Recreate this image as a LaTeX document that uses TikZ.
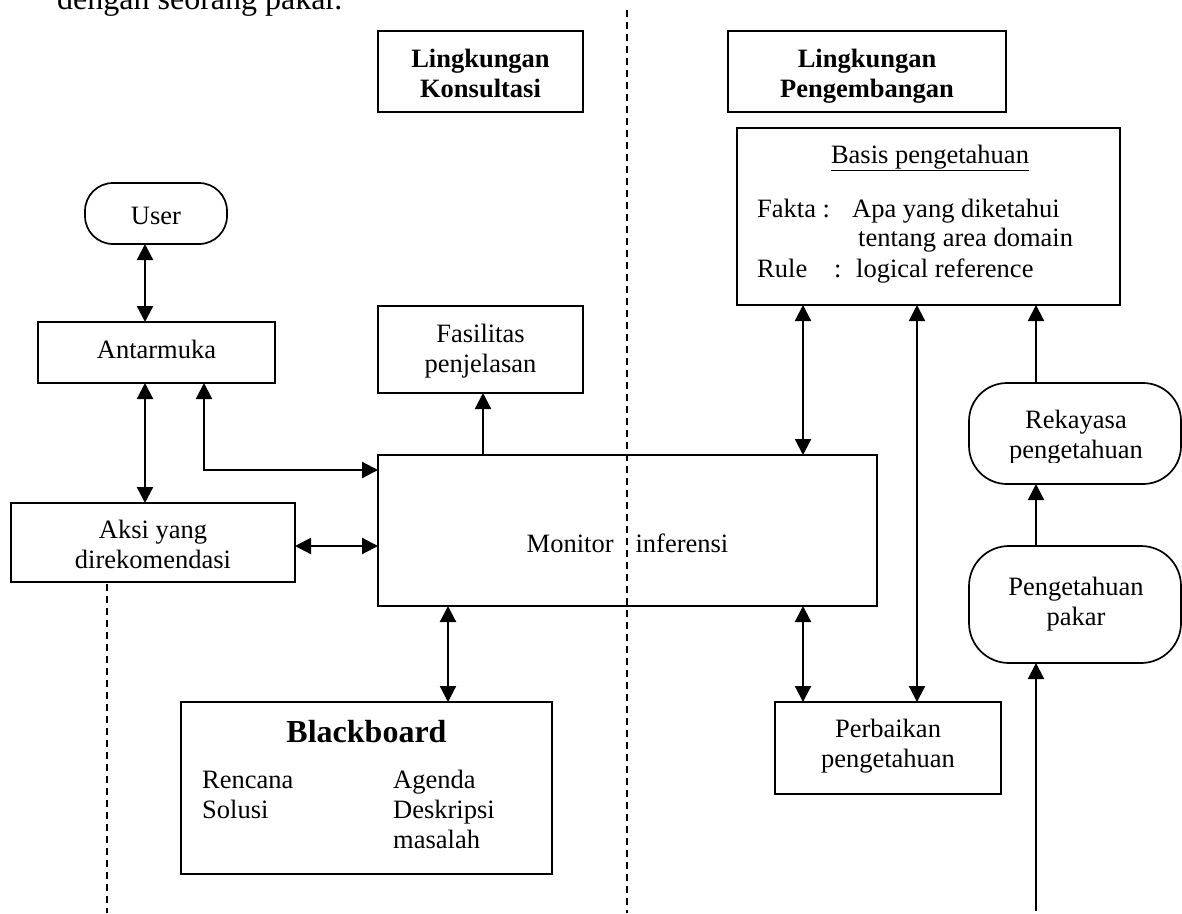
\documentclass[tikz,border=0pt]{standalone}
\usepackage{fontspec}
\setmainfont{Liberation Serif}
\usetikzlibrary{arrows.meta}
\newcommand\fsn{\fontsize{26.5}{30}\selectfont}
\newcommand\fsbig{\fontsize{32}{38}\selectfont}
\begin{document}
\begin{tikzpicture}[x=1pt,y=-1pt,
  box/.style={draw, line width=2.2pt, rectangle, inner sep=0pt, outer sep=0pt, anchor=north west},
  stad/.style={draw, line width=1.7pt, rectangle, inner sep=0pt, outer sep=0pt, anchor=north west},
  txt/.style={font=\fsn, align=center, inner sep=0pt, anchor=base},
  ltxt/.style={font=\fsn, align=left, inner sep=0pt, anchor=base west},
  arr/.style={line width=2.2pt, -{Triangle[length=16pt,width=16pt]}},
  darr/.style={line width=2.2pt, {Triangle[length=16pt,width=16pt]}-{Triangle[length=16pt,width=16pt]}},
  sepline/.style={line width=1.7pt, dash pattern=on 7pt off 5pt}]
\useasboundingbox (0,0) rectangle (1182,913);

% cut-off text line at the top
\node[font=\fsbig, inner sep=0pt, anchor=base west] (toptext) at (57,9) {dengan seorang pakar.};

% separators
\draw[sepline] (627,10) -- (627,913);
\draw[sepline] (107,584) -- (107,913);

% headings (multi-line nodes: base = last line)
\node[box, minimum width=205pt, minimum height=81pt] (konsul) at (378,31) {};
\node[txt] (konsul-t) at (480.5,97) {\bfseries Lingkungan\\\bfseries Konsultasi};
\node[box, minimum width=278pt, minimum height=81pt] (pengem) at (728,31) {};
\node[txt] (pengem-t) at (867,97) {\bfseries Lingkungan\\\bfseries Pengembangan};

% knowledge base
\node[box, minimum width=383pt, minimum height=177pt] (basis) at (737,128) {};
\node[txt] (basis-h) at (930,163) {\underline{Basis pengetahuan}};
\node[ltxt] (fakta) at (757,217) {Fakta :};
\node[ltxt] (fakta-v1) at (852,217) {Apa yang diketahui};
\node[ltxt] (fakta-v2) at (858,246) {tentang area domain};
\node[ltxt] (rule) at (757,277) {Rule};
\node[ltxt] (rule-c) at (834,277) {:};
\node[ltxt] (rule-v) at (856,277) {logical reference};

% left column
\node[stad, rounded corners=28pt, minimum width=142pt, minimum height=61pt] (user) at (85,183) {};
\node[txt] (user-t) at (156,224) {User};
\node[box, minimum width=237pt, minimum height=61pt] (antar) at (38,322) {};
\node[txt] (antar-t) at (156.5,358) {Antarmuka};
\node[box, minimum width=284pt, minimum height=79pt] (aksi) at (11,503) {};
\node[txt] (aksi-t) at (153,568) {Aksi yang\\direkomendasi};

% centre
\node[box, minimum width=205pt, minimum height=87pt] (fasil) at (378,306) {};
\node[txt] (fasil-t) at (480.5,372) {Fasilitas\\penjelasan};
\node[box, minimum width=499pt, minimum height=151pt] (monitor) at (378,455) {};
\node[txt] (monitor-t) at (627.5,552) {Monitor\hspace*{22pt}inferensi};
\node[box, minimum width=371pt, minimum height=172pt] (black) at (181,702) {};
\node[txt, font=\fsbig\bfseries] (black-t) at (366.5,742) {Blackboard};
\node[ltxt] (black-l) at (202,818) {Rencana\\Solusi};
\node[ltxt] (black-r) at (393,848) {Agenda\\Deskripsi\\masalah};

% right column
\node[box, minimum width=226pt, minimum height=92pt] (perb) at (775,702) {};
\node[txt] (perb-t) at (888,767) {Perbaikan\\pengetahuan};
\node[stad, rounded corners=38pt, minimum width=212pt, minimum height=101pt] (reka) at (969,383) {};
\begin{scope}
\clip (960,380) rectangle (1182,462);
\node[txt] (reka-t) at (1076,458) {Rekayasa\\pengetahuan};
\end{scope}
\node[stad, rounded corners=40pt, minimum width=212pt, minimum height=117pt] (pakar) at (969,546) {};
\node[txt] (pakar-t) at (1076,625) {Pengetahuan\\pakar};

% connector positions
\coordinate (xa) at (145,0);
\coordinate (xb) at (204,470);
\coordinate (yc) at (0,546);
\coordinate (xd) at (483,0);
\coordinate (xe) at (448,0);
\coordinate (xf) at (803,0);
\coordinate (xg) at (917,0);
\coordinate (xh) at (1036,0);
\coordinate (bottom) at (1036,911);

% connectors
\draw[darr] (user.south -| xa) -- (antar.north -| xa);
\draw[darr] (antar.south -| xa) -- (aksi.north -| xa);
\draw[darr] (antar.south -| xb) |- (monitor.west |- xb);
\draw[darr] (aksi.east |- yc) -- (monitor.west |- yc);
\draw[arr] (monitor.north -| xd) -- (fasil.south -| xd);
\draw[darr] (monitor.south -| xe) -- (black.north -| xe);
\draw[darr] (basis.south -| xf) -- (monitor.north -| xf);
\draw[darr] (monitor.south -| xf) -- (perb.north -| xf);
\draw[darr] (perb.north -| xg) -- (basis.south -| xg);
\draw[arr] (reka.north -| xh) -- (basis.south -| xh);
\draw[arr] (pakar.north -| xh) -- (reka.south -| xh);
\draw[arr] (bottom) -- (pakar.south -| xh);
\end{tikzpicture}
\end{document}
